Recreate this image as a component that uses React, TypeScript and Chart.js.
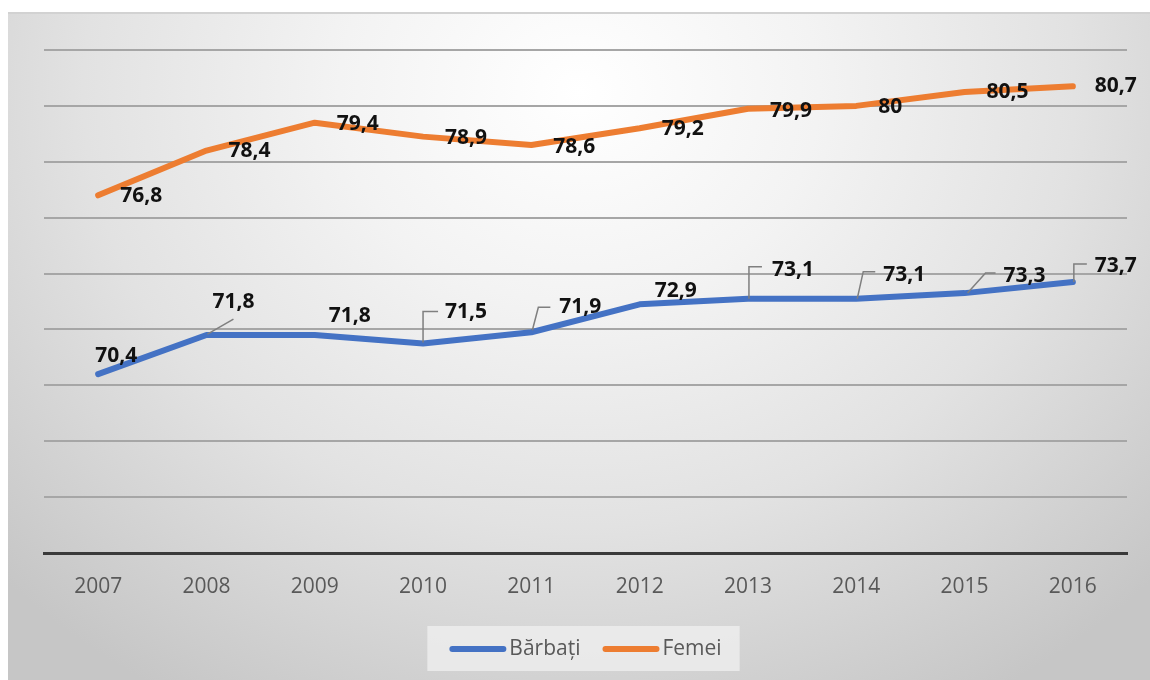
import React, { useEffect, useRef } from "react";
import { Chart, registerables } from "chart.js";

Chart.register(...registerables);

const years = ["2007", "2008", "2009", "2010", "2011", "2012", "2013", "2014", "2015", "2016"];
const barbati = [70.4, 71.8, 71.8, 71.5, 71.9, 72.9, 73.1, 73.1, 73.3, 73.7];
const femei = [76.8, 78.4, 79.4, 78.9, 78.6, 79.2, 79.9, 80, 80.5, 80.7];
const seriesNames = ["Bărbați", "Femei"];

// label placement (left edge dx, center dy relative to point)
const barbatiLabelPos = [[-3, -18], [6, -33], [14, -19], [22, -31], [28, -25], [15, -13], [24, -29], [27, -24], [39, -17], [22, -16]];
const femeiLabelPos = [[22, 1], [22, 0], [22, 1], [22, 1], [22, 2], [22, 1], [22, 2], [22, 1], [22, 0], [22, 0]];
const barbatiLeaders: (number[][] | null)[] = [
  null,
  [[1, -1], [27, -16]],
  null,
  [[0, -1], [0, -32], [15, -32]],
  [[1, -2], [7, -25], [19, -25]],
  null,
  [[1, 0], [1, -32], [14, -32]],
  [[1, 0], [7, -27], [19, -27]],
  [[3, 0], [21, -20], [31, -20]],
  [[1, 0], [1, -18], [14, -18]],
];

const fmt = (v: number) => String(v).replace(".", ",");

const labelsPlugin = {
  id: "dataLabels",
  afterDatasetsDraw(chart: any) {
    const ctx = chart.ctx;
    const cfg = [
      { pos: barbatiLabelPos, leaders: barbatiLeaders },
      { pos: femeiLabelPos, leaders: null as any },
    ];
    ctx.save();
    chart.data.datasets.forEach((ds: any, di: number) => {
      const meta = chart.getDatasetMeta(di);
      meta.data.forEach((pt: any, i: number) => {
        const c = cfg[di];
        const lead = c.leaders ? c.leaders[i] : null;
        if (lead) {
          ctx.strokeStyle = "#7f7f7f";
          ctx.lineWidth = 1.5;
          ctx.beginPath();
          lead.forEach((p: number[], k: number) => {
            if (k === 0) ctx.moveTo(pt.x + p[0], pt.y + p[1]);
            else ctx.lineTo(pt.x + p[0], pt.y + p[1]);
          });
          ctx.stroke();
        }
        const [dx, dy] = c.pos[i];
        ctx.font = "bold 21px 'Open Sans'";
        ctx.fillStyle = "#111111";
        ctx.textAlign = "left";
        ctx.textBaseline = "middle";
        ctx.fillText(fmt(ds.data[i]), pt.x + dx, pt.y + dy);
      });
    });
    ctx.restore();
  },
};

const legendPlugin = {
  id: "customLegend",
  afterDraw(chart: any) {
    const ctx = chart.ctx;
    const area = chart.chartArea;
    ctx.save();
    ctx.font = "21px 'Open Sans'";
    const lineW = 57;
    const gapText = 3;
    const gapItems = 22;
    const items = chart.data.datasets.map((d: any) => ({
      label: d.label,
      color: d.borderColor,
      w: lineW + gapText + ctx.measureText(d.label).width,
    }));
    const total = items.reduce((s: number, it: any) => s + it.w, 0) + gapItems * (items.length - 1);
    const cx = (area.left + area.right) / 2;
    const cy = 637;
    let x = cx - total / 2;
    ctx.fillStyle = "rgba(240,240,240,0.75)";
    ctx.fillRect(x - 22, cy - 23, total + 40, 45);
    items.forEach((it: any) => {
      ctx.strokeStyle = it.color;
      ctx.lineWidth = 6;
      ctx.lineCap = "round";
      ctx.beginPath();
      ctx.moveTo(x + 3, cy);
      ctx.lineTo(x + lineW - 3, cy);
      ctx.stroke();
      ctx.fillStyle = "#595959";
      ctx.textAlign = "left";
      ctx.textBaseline = "middle";
      ctx.fillText(it.label, x + lineW + gapText, cy);
      x += it.w + gapItems;
    });
    ctx.restore();
  },
};

export default function App() {
  const ref = useRef<HTMLCanvasElement>(null);
  useEffect(() => {
    if (!ref.current) return;
    const chart = new Chart(ref.current, {
      type: "line",
      data: {
        labels: years,
        datasets: [
          {
            label: seriesNames[0],
            data: barbati,
            borderColor: "#4472C4",
            backgroundColor: "#4472C4",
            borderWidth: 6,
            pointRadius: 0,
            borderCapStyle: "round",
            borderJoinStyle: "round",
            tension: 0,
          },
          {
            label: seriesNames[1],
            data: femei,
            borderColor: "#ED7D31",
            backgroundColor: "#ED7D31",
            borderWidth: 6,
            pointRadius: 0,
            borderCapStyle: "round",
            borderJoinStyle: "round",
            tension: 0,
          },
        ],
      },
      options: {
        animation: false,
        responsive: false,
        events: [],
        layout: { padding: { left: 36, right: 23, top: 38, bottom: 0 } },
        plugins: {
          legend: { display: false },
          tooltip: { enabled: false },
          title: { display: false },
        },
        scales: {
          x: {
            offset: true,
            grid: { display: true, drawOnChartArea: false, drawTicks: false, color: "rgba(0,0,0,0)" },
            border: { display: true, color: "#3a3a3a", width: 3 },
            ticks: { color: "#595959", font: { family: "'Open Sans'", size: 21 }, padding: 21 },
            afterFit: (s: any) => {
              s.height = 127;
            },
          },
          y: {
            min: 64,
            max: 82,
            ticks: { stepSize: 2, display: false },
            border: { display: false },
            grid: {
              drawTicks: false,
              lineWidth: 2,
              color: (c: any) => (c.tick && c.tick.value === 64 ? "rgba(0,0,0,0)" : "#a6a6a6"),
            },
            afterFit: (s: any) => {
              s.width = 0;
            },
          },
        },
      },
      plugins: [labelsPlugin, legendPlugin],
    });
    return () => chart.destroy();
  }, []);

  return (
    <div
      style={{
        position: "fixed",
        left: 8,
        top: 12,
        width: 1142,
        height: 668,
        overflow: "hidden",
        background:
          "linear-gradient(#d2d2d2, #d2d2d2) top / 100% 2px no-repeat, radial-gradient(ellipse 70% 105% at 50% 12%, #ffffff 0%, #f3f3f3 30%, #e2e2e2 62%, #c6c6c6 100%)",
      }}
    >
      <canvas ref={ref} width={1142} height={668} style={{ display: "block" }} />
    </div>
  );
}
